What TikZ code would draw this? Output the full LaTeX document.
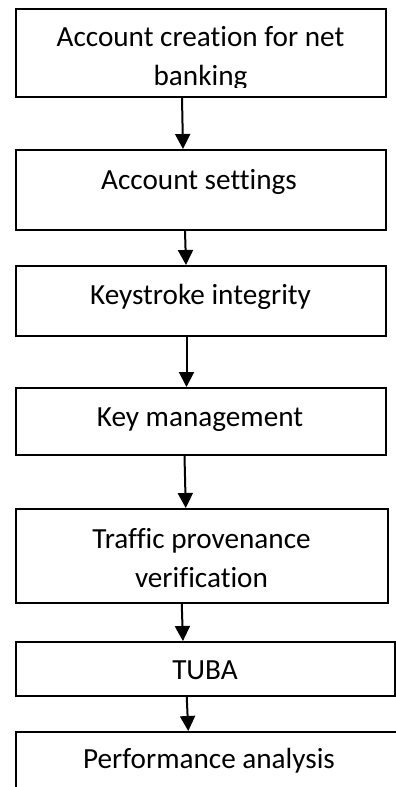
\documentclass[tikz,border=0pt]{standalone}
\usepackage{fontspec}
\setmainfont{Carlito}[Ligatures=NoCommon]
\usetikzlibrary{arrows.meta}

\begin{document}
\begin{tikzpicture}[x=1pt,y=-1pt,
  every node/.style={font=\fontsize{29.2}{39.5}\selectfont},
  etapa/.style={draw,line width=2pt,inner sep=0pt},
  rotulo/.style={anchor=base,align=center,inner sep=0pt},
  paso/.style={-{Triangle[length=15pt,width=15pt]},line width=2pt}
]
\useasboundingbox (0,0) rectangle (396,787);
\clip (0,0) rectangle (396,787);
% cajas: nombre/izq/arriba/der/abajo
\foreach \n/\xa/\ya/\xb/\yb in {cuenta/15.5/8.5/385.5/97,ajustes/15.5/150/385.5/230,
    teclas/15.5/266/385.5/336,claves/15.5/388/385.5/455,trafico/15.5/509/388/603,
    tuba/15.5/642/395/696,analisis/15.5/732/430/830} {
  \node[etapa,minimum width={\xb-\xa},minimum height={\yb-\ya}] (\n)
    at ({(\xa+\xb)/2},{(\ya+\yb)/2}) {};
}
% la base del rotulo de dos lineas es la de la ultima linea
\begin{scope}
  \clip (cuenta.north west) rectangle ([yshift=11pt]cuenta.south east);
  \node[rotulo] (cuenta-t) at (200.5,85.5) {Account creation for net\\banking};
\end{scope}
\node[rotulo] (ajustes-t) at (199,189) {Account settings};
\node[rotulo] (teclas-t) at (200.5,304) {Keystroke integrity};
\node[rotulo] (claves-t) at (200,426.5) {Key management};
\node[rotulo] (trafico-t) at (201.5,587.5) {Traffic provenance\\verification};
\node[rotulo] (tuba-t) at (205,679) {TUBA};
\node[rotulo] (analisis-t) at (209,768) {Performance analysis};
% flechas entre etapas
\draw[paso] ([xshift=-18.5pt]cuenta.south) -- ([xshift=-17.5pt]ajustes.north);
\draw[paso] ([xshift=-15.5pt]ajustes.south) -- ([xshift=-14.5pt]teclas.north);
\draw[paso] ([xshift=-14pt]teclas.south) -- ([xshift=-14pt]claves.north);
\draw[paso] ([xshift=-16pt]claves.south) -- ([xshift=-16pt]trafico.north);
\draw[paso] ([xshift=-20pt]trafico.south) -- ([xshift=-22.3pt]tuba.north);
\draw[paso] ([xshift=-18.5pt]tuba.south) -- ([xshift=-34.5pt]analisis.north);
\end{tikzpicture}
\end{document}
